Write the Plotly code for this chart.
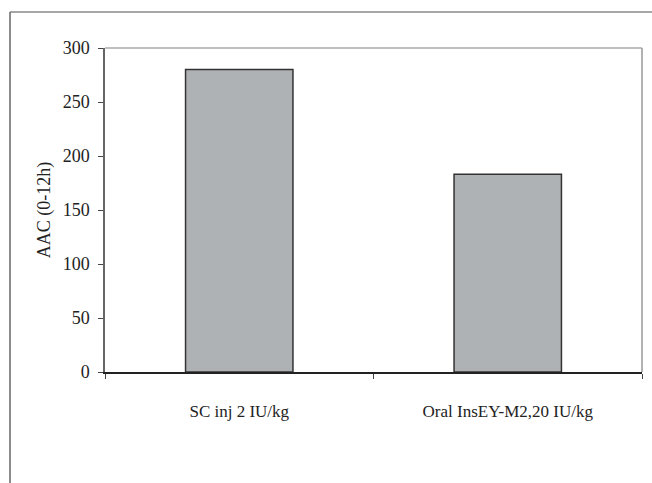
import plotly.graph_objects as go

categories = ["SC inj 2 IU/kg", "Oral InsEY-M2,20 IU/kg"]
values = [280, 183]
y_ticks = [0, 50, 100, 150, 200, 250, 300]

W, H = 652, 483
L, R, T, B = 105, 10, 48, 111
pw, ph = W - L - R, H - T - B

def px_x(x):
    return (x - L) / pw

def px_y(y):
    return 1 - (y - T) / ph

fig = go.Figure(go.Bar(
    x=categories, y=values, width=0.4,
    marker=dict(color="#afb2b5", line=dict(color="#333333", width=1.5)),
))

family = "Liberation Serif, Times New Roman, serif"
xfont = dict(family=family, size=17, color="#222222")
yfont = dict(family=family, size=18, color="#222222")

fig.update_layout(
    width=W, height=H,
    margin=dict(l=L, r=R, t=T, b=B),
    paper_bgcolor="white", plot_bgcolor="white",
    font=xfont, showlegend=False,
    xaxis=dict(
        showline=True, linecolor="#222222", linewidth=1.5,
        ticks="outside", tickson="boundaries", ticklen=5, tickcolor="#444444",
        showgrid=False, ticklabelstandoff=23,
        tickfont=xfont,
    ),
    yaxis=dict(
        range=[0, 300], tickvals=y_ticks, showline=True, linecolor="#666666", linewidth=1.5,
        ticks="outside", ticklen=5, tickcolor="#444444", showgrid=False, zeroline=False,
        tickfont=yfont, ticklabelstandoff=5,
        title=dict(text="AAC (0-12h)", font=yfont, standoff=7),
    ),
    shapes=[
        dict(type="line", xref="paper", yref="paper", x0=0, x1=1, y0=1, y1=1,
             line=dict(color="#aaaaaa", width=1.5)),
        dict(type="line", xref="paper", yref="paper", x0=1, x1=1, y0=0, y1=1,
             line=dict(color="#999999", width=1.5)),
        dict(type="line", xref="paper", yref="paper", x0=px_x(10), x1=px_x(660), y0=px_y(12), y1=px_y(12),
             line=dict(color="#888888", width=1.5)),
        dict(type="line", xref="paper", yref="paper", x0=px_x(10), x1=px_x(10), y0=px_y(12), y1=px_y(490),
             line=dict(color="#666666", width=1.5)),
    ],
)

fig.write_html("out.html", config={"displayModeBar": False},
               post_script="document.body.style.margin='0';document.body.style.padding='0';")
